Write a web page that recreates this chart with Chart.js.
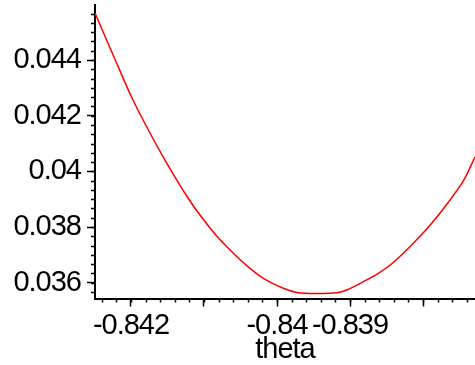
<!DOCTYPE html>
<html>
<head>
<meta charset="utf-8">
<script src="https://cdn.jsdelivr.net/npm/chart.js@4.4.1/dist/chart.umd.min.js"></script>
<style>
  html, body { margin: 0; padding: 0; background: #fff; }
  #wrap { width: 475px; height: 365px; }
</style>
</head>
<body>
<div id="wrap"><canvas id="myChart" width="475" height="365"></canvas></div>
<script>
// values
const thetaValues = [-0.842493, -0.842196, -0.841973, -0.84174, -0.841511, -0.841219, -0.841055,
  -0.840826, -0.840552, -0.84037, -0.840188, -0.839914, -0.839712, -0.839438, -0.839178,
  -0.839045, -0.838818, -0.838612, -0.838407, -0.838133, -0.837881, -0.83763, -0.837448, -0.837288];
const fValues = [0.045688, 0.043881, 0.042563, 0.041378, 0.0403, 0.039043, 0.038432,
  0.037678, 0.036942, 0.036518, 0.036159, 0.0358, 0.035642, 0.035613, 0.035642,
  0.035739, 0.036037, 0.036338, 0.036726, 0.037416, 0.038134, 0.038971, 0.039654, 0.040516];

const xMajorTicks = [-0.842, -0.841, -0.84, -0.839, -0.838];
const xTickLabels = ['-0.842', '-0.84', '-0.839'];
const yMajorTicks = [0.036, 0.038, 0.04, 0.042, 0.044];
const yTickLabels = ['0.036', '0.038', '0.04', '0.042', '0.044'];
const xMinorStep = 0.0002;
const yMinorStep = 0.002 / 6;

const xMin = -0.842493, xMax = -0.837288;
const yMin = 0.035433, yMax = 0.045976;

const tickFont = { family: "'Liberation Sans', Arial, sans-serif", size: 29 };

const points = thetaValues.map((t, i) => ({ x: t, y: fValues[i] }));

// small ticks between the labelled ones, placed by the scales
const minorTicks = {
  id: 'minorTicks',
  beforeDraw(chart) {
    chart.ctx.letterSpacing = '-1px';
  },
  afterDraw(chart) {
    const ctx = chart.ctx;
    const xs = chart.scales.x, ys = chart.scales.y;
    ctx.save();
    ctx.strokeStyle = '#000';
    ctx.lineWidth = 1.5;
    ctx.beginPath();
    for (let i = Math.ceil((xMin + 0.842) / xMinorStep); -0.842 + i * xMinorStep <= xMax; i++) {
      const v = -0.842 + i * xMinorStep;
      const px = Math.round(xs.getPixelForValue(v)) + 0.5;
      ctx.moveTo(px, ys.bottom);
      ctx.lineTo(px, ys.bottom + 4);
    }
    for (let i = Math.ceil((yMin - 0.036) / yMinorStep); 0.036 + i * yMinorStep <= yMax; i++) {
      const v = 0.036 + i * yMinorStep;
      const py = Math.round(ys.getPixelForValue(v)) + 0.5;
      ctx.moveTo(xs.left, py);
      ctx.lineTo(xs.left - 4, py);
    }
    ctx.stroke();
    ctx.restore();
  }
};

new Chart(document.getElementById('myChart').getContext('2d'), {
  type: 'line',
  data: {
    datasets: [{
      data: points,
      borderColor: '#ff0000',
      borderWidth: 1.5,
      pointRadius: 0,
      tension: 0.3,
      fill: false
    }]
  },
  options: {
    responsive: false,
    animation: false,
    devicePixelRatio: 1,
    layout: { padding: { top: 5, right: 0, left: 0, bottom: 0 } },
    plugins: { legend: { display: false }, tooltip: { enabled: false } },
    scales: {
      x: {
        type: 'linear',
        min: xMin,
        max: xMax,
        afterFit: (scale) => {
          scale.height = 66.5;
          scale.paddingLeft = 0;
          scale.paddingRight = 0;
        },
        afterBuildTicks: (scale) => { scale.ticks = xMajorTicks.map(v => ({ value: v })); },
        ticks: {
          color: '#000',
          font: tickFont,
          padding: 2,
          maxRotation: 0,
          autoSkip: false,
          callback: (v) => {
            const s = String(+v.toFixed(3));
            return xTickLabels.includes(s) ? s : '';
          }
        },
        grid: { drawOnChartArea: false, tickLength: 8, tickWidth: 1.5, tickColor: '#000' },
        border: { color: '#000', width: 2 },
        title: {
          display: true,
          text: 'theta',
          color: '#000',
          font: { family: "'Liberation Sans', Arial, sans-serif", size: 29, lineHeight: 1.2 },
          padding: { top: 0, bottom: -2 }
        }
      },
      y: {
        min: yMin,
        max: yMax,
        afterFit: (scale) => {
          scale.width = 95;
          scale.paddingTop = 0;
          scale.paddingBottom = 0;
        },
        afterBuildTicks: (scale) => { scale.ticks = yMajorTicks.map(v => ({ value: v })); },
        ticks: {
          color: '#000',
          font: tickFont,
          padding: 6,
          autoSkip: false,
          callback: (v) => {
            const s = String(+v.toFixed(3));
            return yTickLabels.includes(s) ? s : '';
          }
        },
        grid: { drawOnChartArea: false, tickLength: 8, tickWidth: 1.5, tickColor: '#000' },
        border: { color: '#000', width: 2 }
      }
    }
  },
  plugins: [minorTicks]
});
</script>
</body>
</html>
